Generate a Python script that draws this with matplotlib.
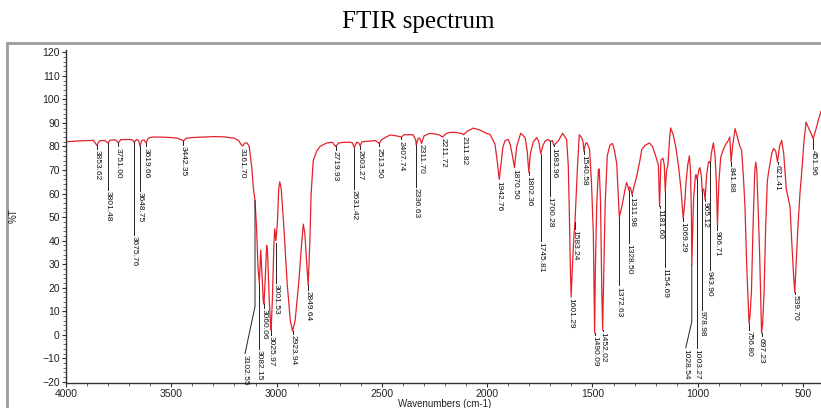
import matplotlib.pyplot as plt
from matplotlib.patches import Rectangle
from matplotlib.ticker import MultipleLocator

# spectrum: wavenumber (cm-1) and %T
wn = [4000, 3950, 3900, 3870, 3853.6, 3840, 3815, 3801.5, 3790, 3765, 3751, 3740,
      3700, 3685, 3675.8, 3665, 3655, 3648.8, 3640, 3630, 3619.7, 3610, 3590, 3550,
      3500, 3470, 3450, 3442.4, 3430, 3400, 3350, 3300, 3250, 3200, 3180, 3170,
      3161.7, 3150, 3140, 3130, 3118, 3110, 3102.5, 3095, 3088, 3082, 3078, 3075,
      3070, 3063, 3060, 3055, 3047, 3043, 3035, 3028, 3026, 3020, 3013, 3009, 3003,
      2996, 2990, 2985, 2978, 2965, 2950, 2935, 2924, 2912, 2895, 2880, 2873, 2866,
      2858, 2850, 2842, 2836, 2826, 2810, 2794, 2762, 2735, 2720, 2705, 2680, 2650,
      2640, 2631.4, 2620, 2610, 2603.3, 2595, 2557, 2530, 2513.5, 2500, 2461, 2430,
      2407.7, 2395, 2352, 2340, 2336.6, 2328, 2320, 2311.7, 2300, 2272, 2240, 2225,
      2211.7, 2195, 2177, 2150, 2120, 2111.8, 2095, 2066, 2035, 2002, 1987, 1963,
      1950, 1942.8, 1935, 1925, 1915, 1900, 1891, 1880, 1870.5, 1860, 1841, 1820,
      1810, 1802.4, 1795, 1781, 1765, 1755, 1745.8, 1735, 1725, 1712, 1700.3, 1690,
      1684, 1672, 1661, 1642, 1623, 1615, 1610, 1605, 1601.3, 1595, 1588, 1583.2,
      1577, 1572, 1563, 1553, 1545, 1540.6, 1532, 1526, 1514, 1505, 1496, 1490,
      1486, 1480, 1472, 1468, 1462, 1456, 1452, 1447, 1440, 1430, 1417, 1405, 1395,
      1385, 1372.6, 1362, 1354, 1345, 1338, 1333, 1328.5, 1324, 1318, 1312, 1300,
      1290, 1275, 1266, 1250, 1230, 1215, 1200, 1187, 1181.6, 1175, 1165, 1159,
      1154.7, 1148, 1142, 1135, 1129, 1117, 1105, 1092, 1080, 1069.3, 1062, 1056,
      1048, 1040, 1035, 1030, 1028.5, 1024, 1020, 1012, 1009, 1003.3, 995, 990, 983,
      979, 972, 965.1, 958, 950, 945, 940, 936, 926, 918, 912, 906.7, 900, 891, 880,
      870, 855, 848, 841.9, 835, 823, 812, 800, 792, 784, 776, 768, 760, 756.8, 752,
      745, 738, 730, 725, 720, 712, 706, 700, 697.2, 692, 685, 678, 670, 665, 649,
      640, 630, 621.4, 612, 602, 592, 580, 562, 553, 545, 539.7, 533, 525, 515, 507,
      496, 486, 475, 462, 452, 440, 428, 415]
pct_t = [82, 82.3, 82.5, 82.6, 80.5, 82.5, 82.5, 81.5, 82.7, 82.8, 81.5, 82.9,
         83, 82.8, 81.8, 83, 82.5, 80.2, 82.5, 82.8, 81.5, 83.5, 84, 84,
         83.8, 83.5, 82.8, 82.3, 83.5, 83.8, 84, 84.2, 84.1, 83.5, 82.5, 81,
         80.2, 81.5, 81.5, 80, 71, 62, 57, 45, 28, 22, 30, 36,
         27, 14, 13, 22, 38, 35, 15, 3, 2, 15, 38, 45, 40,
         48, 62, 65, 62, 45, 22, 6, 1.5, 6, 22, 40, 47, 43,
         32, 21, 40, 60, 74, 78, 80, 81.5, 81.8, 80, 81.5, 81.8, 81.8,
         81.5, 79.5, 81.8, 81.5, 80.3, 82, 82.3, 82.5, 81.3, 83, 84.9, 84.5,
         84, 85, 85, 83, 80.5, 83.5, 83.5, 81.3, 84.5, 85.6, 85.2, 84.8,
         84, 85.5, 86, 86, 85.5, 85, 86.5, 87.8, 87, 85.5, 85.2, 81,
         72, 66, 72, 80, 82.5, 83, 81, 76, 71, 80, 85.6, 83.8,
         78, 69, 77, 82, 83.8, 82, 77, 80.5, 82.3, 83, 82.2, 82.5,
         80.5, 81.5, 82.6, 85.6, 83, 72, 52, 28, 16, 30, 42, 48,
         60, 70, 85, 84, 82, 78, 81.5, 81.5, 78.8, 65, 43, 0.7,
         30, 55, 70, 70.5, 57, 20, 2, 25, 55, 76, 80.6, 81.3, 78,
         72.8, 50, 54, 57.6, 62, 64.7, 63.5, 61.5, 62.8, 62, 59.5, 64,
         67.4, 74, 78.7, 80.5, 81.5, 80, 76, 72, 54.5, 74.3, 75, 72,
         61, 70, 72, 82, 87.9, 85, 80, 72, 62, 49.5, 56, 64.7,
         72, 76, 70, 50, 30, 45, 57.6, 67, 68, 66, 70, 71, 67.5,
         61, 62, 57.5, 68, 73, 73.7, 72.7, 77, 81.5, 76, 65, 46.6, 65, 75.5, 78.4,
         80.5, 82.6, 84, 73.4, 80, 87.6, 84, 80, 78.4, 68, 54.4, 30, 12, 5, 8,
         19, 45, 68.5, 73.4, 70, 50, 33, 10, 0.7, 5, 19, 45, 65, 68.5, 77,
         79.2, 78, 73.4, 80, 82.6, 77, 62, 54.4, 38, 25, 18, 30, 45, 60, 68.5,
         82, 90.4, 88, 85.5, 83.3, 87, 91, 95]

# peak labels: position, value where the marker line starts, value where the text starts
peak_wn = [3853.62, 3801.48, 3751.00, 3675.76, 3648.75, 3619.66, 3442.35, 3161.70,
           3102.55, 3082.15, 3060.06, 3025.97, 3001.53, 2923.94, 2849.64, 2719.93,
           2631.42, 2603.27, 2513.50, 2407.74, 2336.63, 2311.70, 2211.72, 2111.82,
           1942.76, 1870.50, 1802.36, 1745.81, 1700.28, 1683.96, 1601.29, 1583.24,
           1540.58, 1490.09, 1452.02, 1372.63, 1328.50, 1311.98, 1181.60, 1154.69,
           1069.29, 1028.54, 1003.27, 978.98, 965.12, 943.90, 906.71, 841.88,
           756.80, 697.23, 621.41, 539.70, 451.96]
peak_top = [80.5, 81.5, 81.5, 81.8, 80.2, 81.5, 82.3, 80.2,
            57, 22, 13, 2, 39, 1.5, 21, 80,
            79.5, 80.3, 81.3, 84, 80.5, 81.3, 84, 85,
            66, 71, 69, 77, 82.2, 80.5, 16, 48,
            78, 0.7, 2, 50, 61.5, 59.5, 54.5, 61,
            49.5, 30, 66, 61, 57.5, 73.5, 46.6, 73.4,
            5, 0.7, 73.4, 18, 83.3]
peak_text = [79, 61.5, 80, 42.5, 61, 80, 80.5, 80,
             -8, -6, 11.5, 0, 22, 0.5, 19, 78.5,
             62, 79, 80, 83, 62.8, 81.5, 84, 85,
             66, 71, 68, 40, 59, 80, 16, 45,
             77, 0, 1.5, 21, 39, 59, 54, 29,
             48.5, -5.5, -5.5, 10.6, 57, 27.5, 44.5, 71.8,
             2, -0.7, 72.7, 17.5, 79]
# labels whose marker line bends sideways: bend value, text position
bent = {3102.55: (12, 3150), 1028.54: (5.6, 1057)}

fig = plt.figure(figsize=(8.21, 4.08), dpi=100)
fig.patches.append(Rectangle((7 / 821, -0.05), 1.2, 1.05 - 43 / 408, transform=fig.transFigure,
                             fill=False, edgecolor='#9c9c9c', linewidth=2))
ax = fig.add_axes([66 / 821, 25 / 408, 755 / 821, 333 / 408])

ax.plot(wn, pct_t, color='#e4222c', linewidth=0.9)

for w, top, txt in zip(peak_wn, peak_top, peak_text):
    if w in bent:
        bend, tx = bent[w]
        ax.plot([w, w, tx], [top, bend, txt], color='#222222', linewidth=0.7)
    else:
        tx = w
        ax.plot([w, w], [top, txt], color='#222222', linewidth=0.7)
    ax.text(tx, txt - 0.5, '%.2f' % w, rotation=270, ha='center', va='top',
            fontsize=6, family='Liberation Sans', color='#111111')

ax.set_xlim(4000, 415)
ax.set_ylim(-20.5, 121)
ax.xaxis.set_major_locator(MultipleLocator(500))
ax.xaxis.set_minor_locator(MultipleLocator(100))
ax.yaxis.set_major_locator(MultipleLocator(10))
ax.yaxis.set_minor_locator(MultipleLocator(2))
ax.spines['top'].set_visible(False)
ax.spines['right'].set_visible(False)
for s in ('left', 'bottom'):
    ax.spines[s].set_color('#333333')
    ax.spines[s].set_linewidth(1.0)
ax.tick_params(which='major', direction='out', length=3, width=0.8, color='#333333',
               labelsize=7.5, pad=1.5)
ax.tick_params(which='minor', direction='out', length=2, width=0.6, color='#555555')
for lab in ax.get_xticklabels() + ax.get_yticklabels():
    lab.set_family('Liberation Sans')
    lab.set_color('#222222')

fig.text(418 / 821, 1 - 22 / 408, 'FTIR spectrum', ha='center', va='center',
         fontsize=18, family='Liberation Serif')
fig.text(445 / 821, 1 - 404 / 408, 'Wavenumbers (cm-1)', ha='center', va='center',
         fontsize=7, family='Liberation Sans', color='#222222')
fig.text(14 / 821, 1 - 216 / 408, '%T', ha='center', va='center', rotation=90,
         fontsize=7, family='Liberation Sans', color='#222222')

fig.savefig('out.png', dpi=100)
